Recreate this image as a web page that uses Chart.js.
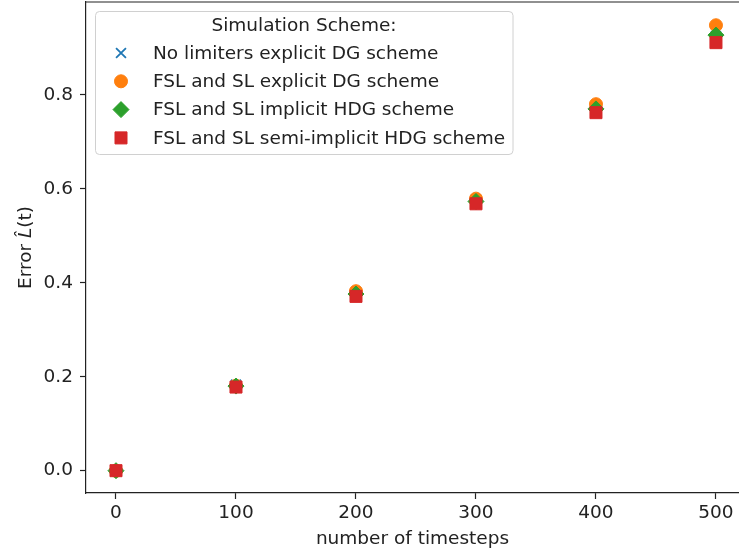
<!DOCTYPE html>
<html>
<head>
<meta charset="utf-8">
<script src="https://cdn.jsdelivr.net/npm/chart.js@4"></script>
<style>
  html, body { margin: 0; padding: 0; background: #fff; overflow: hidden; }
</style>
</head>
<body>
<canvas id="errorChart" width="739" height="554"></canvas>
<script>
// Timestep values on the x axis
const timesteps = [0, 100, 200, 300, 400, 500];

// Error L^(t) per scheme
const noLimitersDG = [0, 0.183, 0.380, 0.577, 0.772, 0.925];
const fslExplicitDG = [0, 0.181, 0.382, 0.579, 0.780, 0.948];
const fslImplicitHDG = [0, 0.180, 0.376, 0.573, 0.770, 0.927];
const fslSemiImplicitHDG = [0, 0.178, 0.371, 0.568, 0.762, 0.911];

const seriesLabels = [
  'No limiters explicit DG scheme',
  'FSL and SL explicit DG scheme',
  'FSL and SL implicit HDG scheme',
  'FSL and SL semi-implicit HDG scheme'
];

const xTickValues = [0, 100, 200, 300, 400, 500];
const yTickValues = [0.0, 0.2, 0.4, 0.6, 0.8];

const toPoints = values => timesteps.map((t, i) => ({ x: t, y: values[i] }));

const FONT_SIZE = 18.5;
Chart.defaults.font.family = "'DejaVu Sans', sans-serif";
Chart.defaults.font.size = FONT_SIZE;
Chart.defaults.color = '#222';

// matplotlib-like legend box, top spine and y title (italic L with hat)
const decorations = {
  id: 'decorations',
  afterDraw(chart) {
    const ctx = chart.ctx;
    const area = chart.chartArea;
    const normal = FONT_SIZE + "px 'DejaVu Sans'";
    const italic = 'italic ' + normal;

    ctx.save();
    // top spine
    ctx.strokeStyle = '#222';
    ctx.lineWidth = 1.2;
    ctx.beginPath();
    ctx.moveTo(area.left, area.top);
    ctx.lineTo(area.right, area.top);
    ctx.stroke();

    // y axis title: Error L̂(t)
    ctx.save();
    ctx.translate(25, (area.top + area.bottom) / 2);
    ctx.rotate(-Math.PI / 2);
    ctx.textBaseline = 'middle';
    ctx.textAlign = 'left';
    ctx.fillStyle = '#222';
    const parts = [['Error ', normal], ['L\u0302', italic], ['(t)', normal]];
    let total = 0;
    parts.forEach(([t, f]) => { ctx.font = f; total += ctx.measureText(t).width; });
    let x = -total / 2;
    parts.forEach(([t, f]) => {
      ctx.font = f;
      ctx.fillText(t, x, 1);
      x += ctx.measureText(t).width;
    });
    ctx.restore();

    // legend box
    ctx.fillStyle = 'rgba(255,255,255,0.8)';
    ctx.strokeStyle = '#d0d0d0';
    ctx.lineWidth = 1;
    ctx.beginPath();
    ctx.roundRect(95.5, 11.5, 417.5, 143, 4);
    ctx.fill();
    ctx.stroke();

    ctx.fillStyle = '#222';
    ctx.textBaseline = 'middle';
    ctx.textAlign = 'center';
    ctx.font = normal;
    ctx.fillText('Simulation Scheme:', 304, 26);

    ctx.textAlign = 'left';
    chart.data.datasets.forEach((ds, i) => {
      const y = 53 + i * 28.3;
      ctx.fillStyle = ds.backgroundColor;
      ctx.strokeStyle = ds.borderColor;
      ctx.lineWidth = ds.borderWidth;
      Chart.helpers.drawPoint(ctx, {
        pointStyle: ds.pointStyle,
        radius: ds.pointRadius,
        rotation: 0,
        borderWidth: ds.borderWidth
      }, 121, y);
      ctx.fillStyle = '#222';
      ctx.fillText(ds.label, 153, y + 1);
    });
    ctx.restore();
  }
};

new Chart(document.getElementById('errorChart'), {
  type: 'scatter',
  data: {
    datasets: [
      {
        label: seriesLabels[0],
        data: toPoints(noLimitersDG),
        pointStyle: 'crossRot',
        pointRadius: 7,
        borderWidth: 1.8,
        borderColor: '#1f77b4',
        backgroundColor: '#1f77b4',
        order: 4
      },
      {
        label: seriesLabels[1],
        data: toPoints(fslExplicitDG),
        pointStyle: 'circle',
        pointRadius: 6.5,
        borderWidth: 1,
        borderColor: '#ff7f0e',
        backgroundColor: '#ff7f0e',
        order: 3
      },
      {
        label: seriesLabels[2],
        data: toPoints(fslImplicitHDG),
        pointStyle: 'rectRot',
        pointRadius: 8,
        borderWidth: 1,
        borderColor: '#2ca02c',
        backgroundColor: '#2ca02c',
        order: 2
      },
      {
        label: seriesLabels[3],
        data: toPoints(fslSemiImplicitHDG),
        pointStyle: 'rect',
        pointRadius: 8.5,
        borderWidth: 1,
        borderColor: '#d62728',
        backgroundColor: '#d62728',
        order: 1
      }
    ]
  },
  options: {
    responsive: false,
    animation: false,
    events: [],
    layout: {
      autoPadding: false,
      padding: { top: 2, right: 0, left: 0, bottom: 0 }
    },
    plugins: {
      legend: { display: false },
      tooltip: { enabled: false }
    },
    scales: {
      x: {
        type: 'linear',
        min: -25,
        max: 519.2,
        afterBuildTicks: axis => {
          axis.ticks = xTickValues.map(v => ({ value: v }));
        },
        afterFit: axis => {
          axis.height = 61;
          axis.paddingLeft = 0;
          axis.paddingRight = 0;
        },
        grid: {
          drawOnChartArea: false,
          drawTicks: true,
          tickLength: 6,
          tickWidth: 1.2,
          color: '#222'
        },
        border: { display: true, color: '#222', width: 1.2 },
        ticks: {
          padding: 3,
          color: '#222',
          maxRotation: 0,
          callback: v => String(v)
        },
        title: {
          display: true,
          text: 'number of timesteps',
          color: '#222',
          padding: { top: 0, bottom: 4 }
        }
      },
      y: {
        type: 'linear',
        min: -0.0475,
        max: 0.9975,
        afterBuildTicks: axis => {
          axis.ticks = yTickValues.map(v => ({ value: v }));
        },
        afterFit: axis => {
          axis.width = 86;
          axis.paddingTop = 0;
          axis.paddingBottom = 0;
        },
        grid: {
          drawOnChartArea: false,
          drawTicks: true,
          tickLength: 6,
          tickWidth: 1.2,
          color: '#222'
        },
        border: { display: true, color: '#222', width: 1.2 },
        ticks: {
          padding: 7,
          color: '#222',
          callback: v => v.toFixed(1)
        },
        title: { display: false }
      }
    }
  },
  plugins: [decorations]
});
</script>
</body>
</html>
